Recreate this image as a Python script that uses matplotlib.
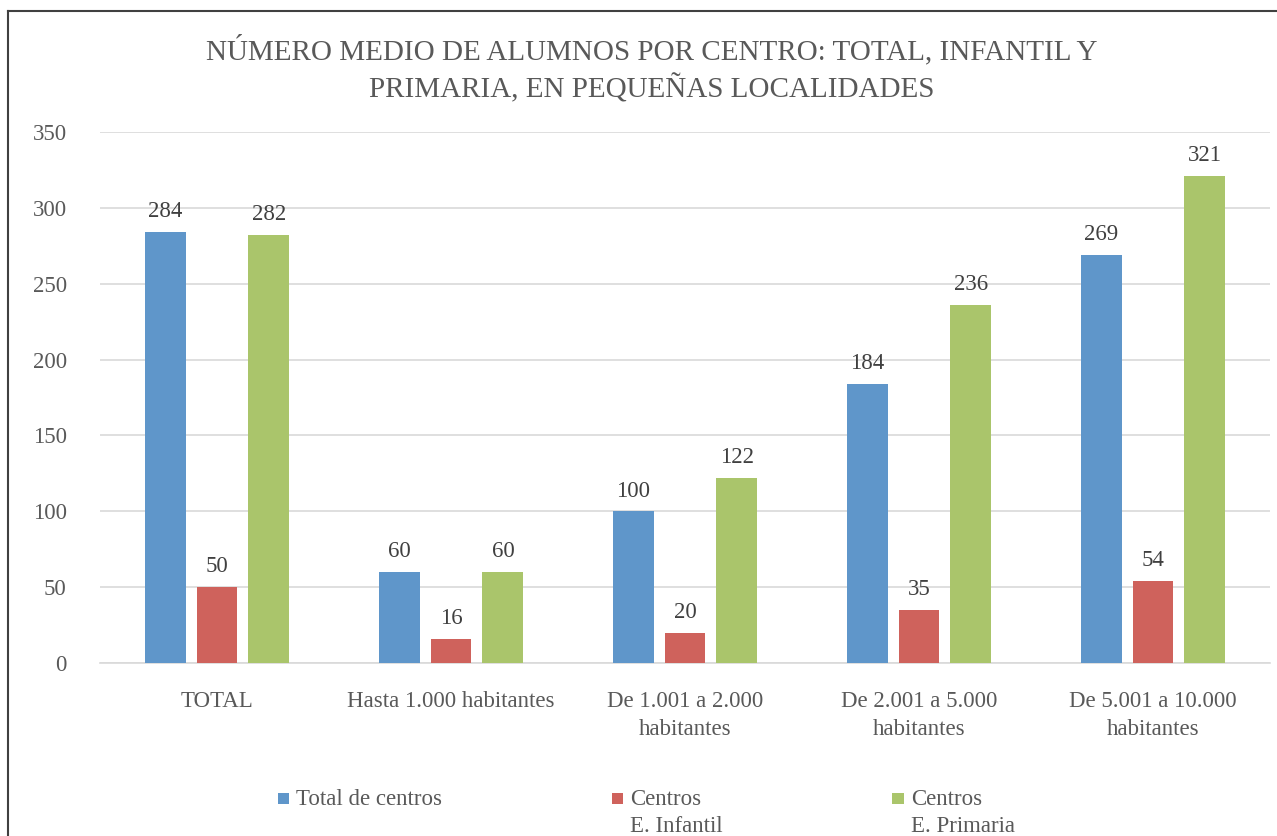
import matplotlib
matplotlib.use("Agg")
import matplotlib.pyplot as plt
import numpy as np
from matplotlib.patches import Rectangle
from matplotlib.lines import Line2D
from matplotlib.legend_handler import HandlerPatch

# data
categories = ["TOTAL", "Hasta 1.000 habitantes", "De 1.001 a 2.000\nhabitantes",
              "De 2.001 a 5.000\nhabitantes", "De 5.001 a 10.000\nhabitantes"]
series_names = ["Total de centros\n ", "Centros\nE. Infantil", "Centros\nE. Primaria"]
total_centros = [284, 60, 100, 184, 269]
centros_infantil = [50, 16, 20, 35, 54]
centros_primaria = [282, 60, 122, 236, 321]
colors = ["#5F96CA", "#CF625C", "#AAC56B"]

plt.rcParams['font.family'] = ['Liberation Serif', 'DejaVu Serif']
grey = "#595959"
fs = 16.5


class TopSquare(HandlerPatch):
    # square next to the first line of a two-line label
    def create_artists(self, legend, orig_handle, xdescent, ydescent,
                       width, height, fontsize, trans):
        s = 0.5 * fontsize
        p = Rectangle((-xdescent, -ydescent + 0.75 * fontsize), s, s,
                      facecolor=orig_handle.get_facecolor(), edgecolor="none",
                      transform=trans)
        return [p]


fig = plt.figure(figsize=(12.77, 8.36), dpi=100)
ax = fig.add_axes([100 / 1277, 1 - 663 / 836, 1170 / 1277, (663 - 132) / 836])

x = np.arange(len(categories))
w = 0.175
step = 0.222
handles = []
for i, (vals, col) in enumerate(zip([total_centros, centros_infantil, centros_primaria], colors)):
    bars = ax.bar(x + (i - 1) * step, vals, width=w, color=col, zorder=3)
    handles.append(bars[0])
    for b, v in zip(bars, vals):
        ax.annotate(str(v), (b.get_x() + b.get_width() / 2, v), xytext=(0, 7),
                    textcoords="offset points", ha="center", va="bottom",
                    fontsize=fs, color="#404040")

ax.set_xlim(-0.5, len(categories) - 0.5)
ax.set_ylim(0, 350)
ax.set_yticks(np.arange(0, 351, 50))
ax.grid(axis="y", color="#D9D9D9", lw=1.2, zorder=0)
for s in ["top", "right", "left"]:
    ax.spines[s].set_visible(False)
ax.spines["bottom"].set_color("#D9D9D9")
ax.spines["bottom"].set_linewidth(1.2)
ax.set_xticks(x)
ax.set_xticklabels(categories, linespacing=1.45)
ax.tick_params(axis="both", length=0, labelsize=fs, colors=grey)
ax.tick_params(axis="x", pad=20)
ax.tick_params(axis="y", pad=24)

fig.text(652 / 1277, 1 - 69 / 836,
         "NÚMERO MEDIO DE ALUMNOS POR CENTRO: TOTAL, INFANTIL Y\nPRIMARIA, EN PEQUEÑAS LOCALIDADES",
         ha="center", va="center", fontsize=21, color=grey, linespacing=1.35)

hm = {h: TopSquare() for h in handles}
leg = ax.legend(handles, series_names, handler_map=hm, ncol=3, frameon=False,
                loc="upper left", bbox_to_anchor=(278 / 1277, 1 - 789 / 836),
                bbox_transform=fig.transFigure, fontsize=fs, labelcolor=grey,
                handlelength=0.5, handletextpad=0.3, columnspacing=7.4,
                borderpad=0, borderaxespad=0)
for t in leg.get_texts():
    t.set_linespacing(1.4)

# outer frame of the chart (only top and left visible)
fig.add_artist(Line2D([8 / 1277, 1], [1 - 11 / 836, 1 - 11 / 836], color="#404040", lw=1.5))
fig.add_artist(Line2D([8 / 1277, 8 / 1277], [0, 1 - 11 / 836], color="#404040", lw=1.5))

fig.savefig("out.png", dpi=100)
